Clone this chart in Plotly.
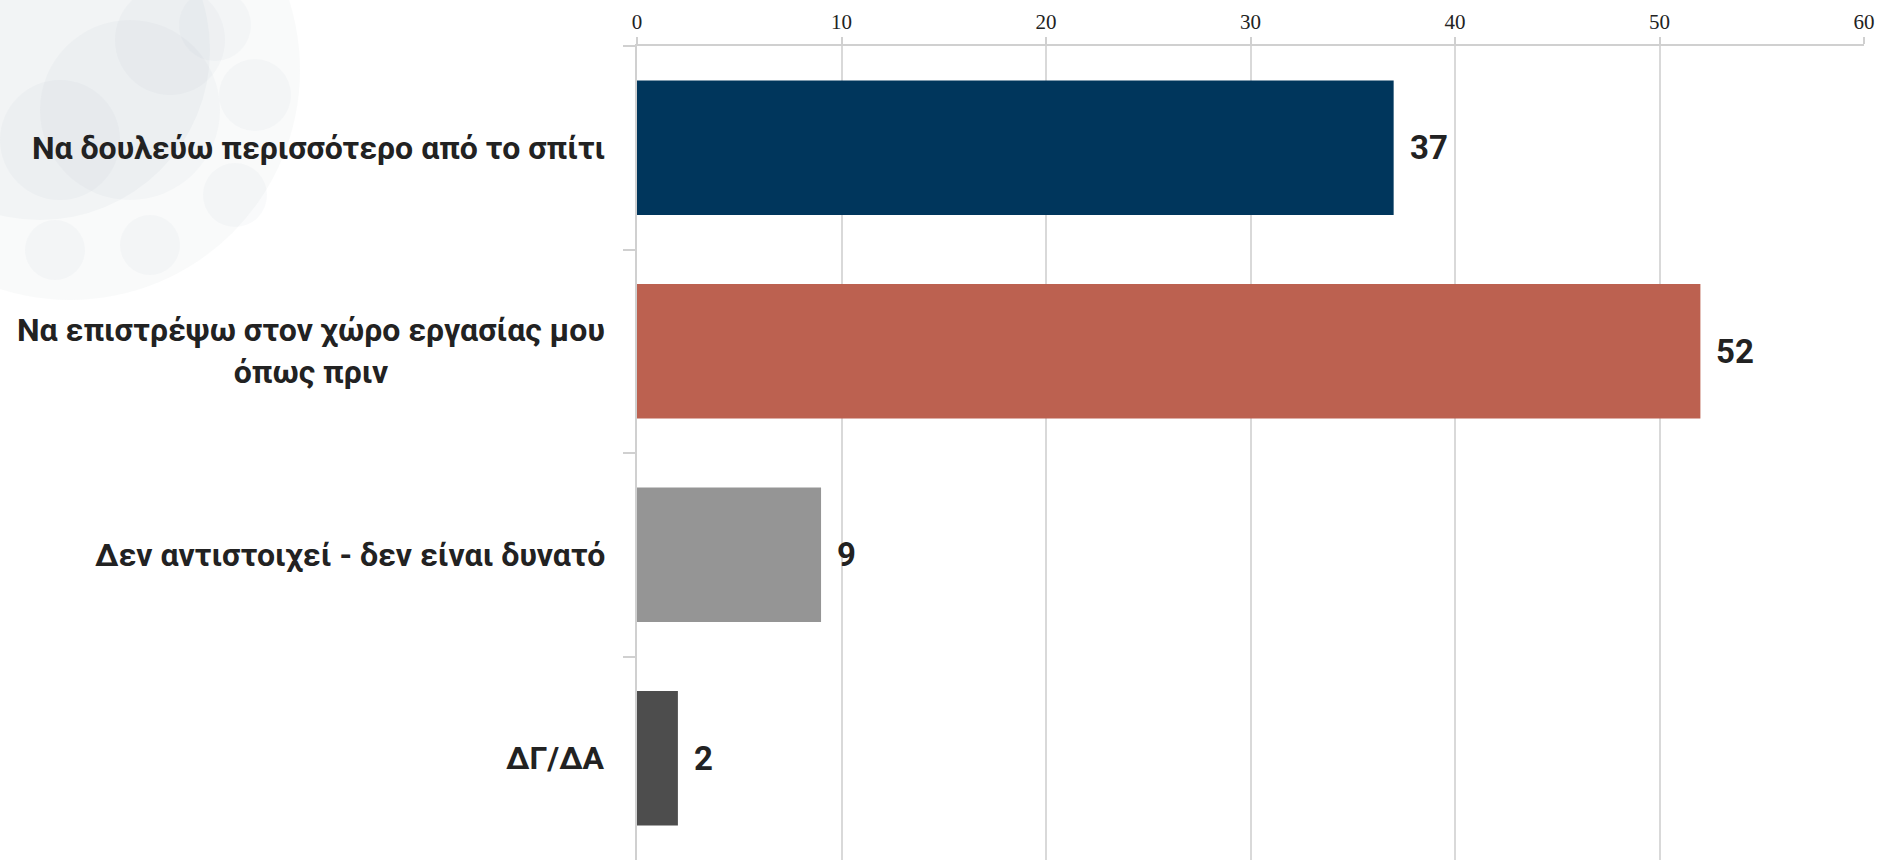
import plotly.graph_objects as go

# Survey answers and their shares (%)
categories = [
    "Να δουλεύω περισσότερο από το σπίτι",
    "Να επιστρέψω στον χώρο εργασίας μου<br>όπως πριν",
    "Δεν αντιστοιχεί - δεν είναι δυνατό",
    "ΔΓ/ΔΑ",
]
values = [37, 52, 9, 2]
bar_colors = ["#00365C", "#BC6150", "#959595", "#4D4D4D"]
x_ticks = [0, 10, 20, 30, 40, 50, 60]

W, H = 1888, 860
M_L, M_R, M_T, M_B = 637, 24, 46, 0
PW, PH = W - M_L - M_R, H - M_T - M_B

LABEL_FONT = "Roboto, Liberation Sans Narrow, Arial Narrow, sans-serif"
TEXT_COLOR = "#222222"
GRID = "#d9d9d9"


def px(xp):
    return (xp - M_L) / PW


def py(yp):
    return 1 - (yp - M_T) / PH


fig = go.Figure()
fig.add_trace(go.Bar(
    x=values,
    y=categories,
    orientation="h",
    marker=dict(color=bar_colors, line=dict(width=0)),
    hoverinfo="x+y",
))

# value labels to the right of each bar
for cat, val in zip(categories, values):
    fig.add_annotation(
        x=val, y=cat, xref="x", yref="y",
        text=f"<b>{val}</b>", showarrow=False,
        xanchor="left", yanchor="middle", xshift=14,
        font=dict(family=LABEL_FONT, size=33, color=TEXT_COLOR),
    )

# category labels, centred line by line
for cat in categories:
    fig.add_annotation(
        x=0, y=cat, xref="paper", yref="y",
        text=f"<b>{cat}</b>", showarrow=False, align="center",
        xanchor="right", yanchor="middle", xshift=-30,
        font=dict(family=LABEL_FONT, size=32, color=TEXT_COLOR),
    )

# faint decorative virus motif in the top-left corner
blobs = [
    (70, 70, 230, "rgba(170,178,190,0.07)"),
    (40, 50, 170, "rgba(160,168,180,0.07)"),
    (130, 110, 90, "rgba(160,168,180,0.06)"),
    (60, 140, 60, "rgba(160,168,180,0.06)"),
    (170, 40, 55, "rgba(160,168,180,0.06)"),
    (255, 95, 36, "rgba(175,185,200,0.08)"),
    (235, 195, 32, "rgba(175,185,200,0.08)"),
    (150, 245, 30, "rgba(175,185,200,0.08)"),
    (55, 250, 30, "rgba(175,185,200,0.08)"),
    (215, 25, 36, "rgba(175,185,200,0.08)"),
]
for cx, cy, r, col in blobs:
    fig.add_shape(
        type="circle", xref="paper", yref="paper", layer="below",
        x0=px(cx - r), x1=px(cx + r), y0=py(cy + r), y1=py(cy - r),
        fillcolor=col, line=dict(width=0),
    )

fig.update_layout(
    width=W, height=H,
    margin=dict(l=M_L, r=M_R, t=M_T, b=M_B, pad=0),
    paper_bgcolor="white", plot_bgcolor="rgba(0,0,0,0)",
    bargap=0.34,
    showlegend=False,
    xaxis=dict(
        side="top", range=[0, 60], tickvals=x_ticks,
        showgrid=True, gridcolor=GRID, gridwidth=1.5,
        showline=True, linecolor="#d0d0d0", linewidth=2,
        ticks="outside", ticklen=7, tickcolor="#d0d0d0", tickwidth=1.5,
        tickfont=dict(family="Liberation Serif, DejaVu Serif, serif", size=21, color=TEXT_COLOR),
        zeroline=False, fixedrange=True,
    ),
    yaxis=dict(
        autorange="reversed", showticklabels=False,
        showline=True, linecolor="#d0d0d0", linewidth=2,
        ticks="outside", tickson="boundaries", ticklen=12,
        tickcolor="#d0d0d0", tickwidth=2,
        showgrid=False, fixedrange=True,
    ),
)

fig.write_html("out.html")
